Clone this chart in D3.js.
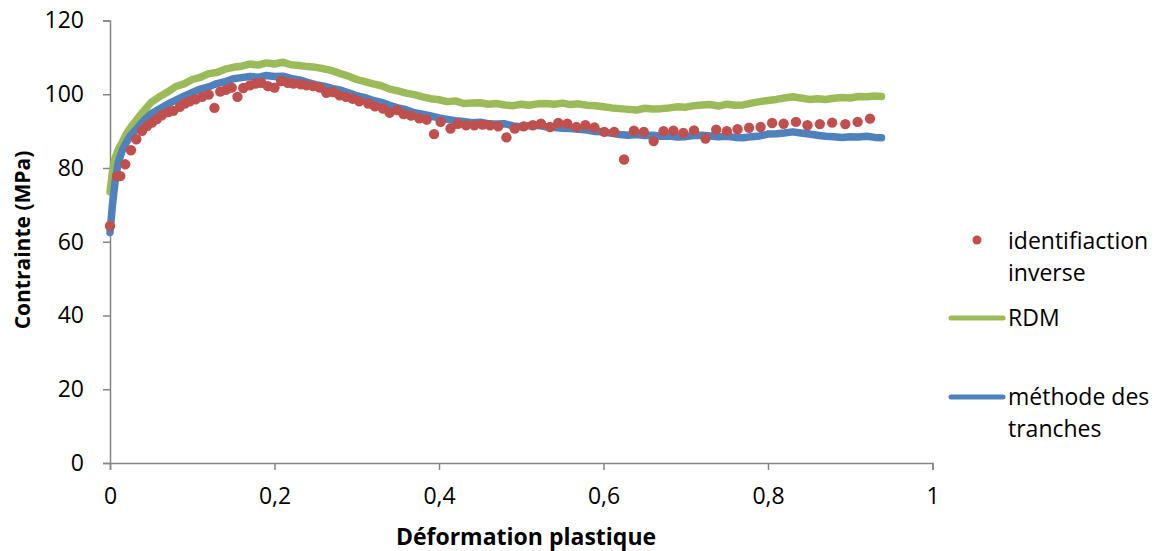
<!DOCTYPE html>
<html><head><meta charset="utf-8">
<script src="https://cdn.jsdelivr.net/npm/d3@7"></script>
<style>body{margin:0;background:#fff}text{font-family:"Open Sans",sans-serif}</style>
</head><body><svg id="c" width="1159" height="551"></svg>
<script>
// ---- data ----
const xTicks = [0, 0.2, 0.4, 0.6, 0.8, 1];
const xTickLabels = ["0", "0,2", "0,4", "0,6", "0,8", "1"];
const yTicks = [0, 20, 40, 60, 80, 100, 120];
const seriesNames = ["identifiaction inverse", "RDM", "méthode des tranches"];

const lineX = [0,0.003,0.006,0.01,0.015,0.02,0.025,0.03,0.04,0.05,0.06,0.07,0.08,0.09,0.10,0.11,0.12,0.13,0.14,0.15,0.16,0.17,0.18,0.19,0.20,0.21,0.22,0.23,0.24,0.25,0.26,0.27,0.28,0.29,0.30,0.31,0.32,0.33,0.34,0.35,0.36,0.37,0.38,0.39,0.40,0.41,0.42,0.43,0.44,0.45,0.46,0.47,0.48,0.49,0.50,0.51,0.52,0.53,0.54,0.55,0.56,0.57,0.58,0.59,0.60,0.61,0.62,0.63,0.64,0.65,0.66,0.67,0.68,0.69,0.70,0.71,0.72,0.73,0.74,0.75,0.76,0.77,0.78,0.79,0.80,0.81,0.82,0.83,0.84,0.85,0.86,0.87,0.88,0.89,0.90,0.91,0.92,0.93,0.938];

const rdm = [73.5,79,82.5,85,87,89.3,91,92.4,95.2,97.8,99.3,100.6,102.1,102.8,104.0,104.6,105.6,105.9,106.8,107.3,107.6,108.2,107.9,108.5,108.2,108.7,108.0,107.8,107.5,107.3,106.9,106.4,105.6,104.9,104.0,103.4,102.8,102.3,101.4,100.9,100.3,99.9,99.3,98.8,98.5,98.0,98.2,97.5,97.6,97.7,97.3,97.5,97.1,96.9,97.3,97.0,97.4,97.5,97.3,97.6,97.2,97.4,97.0,96.9,96.6,96.3,96.1,95.9,95.7,96.2,96.0,96.1,96.3,96.6,96.5,96.9,97.1,97.2,96.8,97.3,97.0,97.1,97.6,98.0,98.3,98.6,99.0,99.3,99.0,98.6,98.8,98.6,98.9,99.1,99.0,99.4,99.3,99.5,99.4];

const tranches = [62.5,70,76,81.5,84.8,87,88.8,90,92.6,94.7,96.0,97.3,98.4,99.5,100.5,101.4,102.0,102.9,103.4,104.2,104.5,104.8,104.6,105.1,104.8,104.9,104.3,103.9,103.2,102.6,102.2,101.6,101.1,100.4,99.6,99.1,98.3,97.8,97.0,96.3,95.8,95.0,94.6,94.1,93.6,93.2,92.8,92.6,92.3,92.4,92.0,91.9,92.0,91.4,91.2,91.5,91.6,91.2,91.0,90.8,90.7,90.5,90.3,89.9,89.8,89.4,89.1,88.9,89.1,88.8,88.9,88.6,88.7,88.4,88.5,88.8,88.9,88.7,88.5,88.6,88.3,88.2,88.5,88.7,89.2,89.3,89.5,89.8,89.5,89.2,88.9,88.6,88.5,88.3,88.5,88.4,88.6,88.3,88.2];

const invX = [0,0.0085,0.0125,0.0185,0.0255,0.032,0.039,0.045,0.051,0.057,0.063,0.071,0.077,0.085,0.091,0.097,0.104,0.112,0.12,0.127,0.134,0.141,0.148,0.155,0.162,0.17,0.177,0.184,0.192,0.2,0.208,0.216,0.223,0.232,0.239,0.247,0.255,0.263,0.271,0.279,0.287,0.295,0.303,0.314,0.322,0.332,0.34,0.349,0.357,0.366,0.376,0.385,0.394,0.402,0.414,0.423,0.433,0.443,0.453,0.462,0.472,0.482,0.492,0.503,0.514,0.524,0.535,0.545,0.556,0.567,0.578,0.589,0.601,0.613,0.625,0.637,0.649,0.661,0.673,0.685,0.697,0.71,0.724,0.737,0.75,0.763,0.777,0.791,0.805,0.819,0.834,0.848,0.863,0.878,0.894,0.909,0.924];
const invY = [64.3,77.8,77.8,81,84.8,87.8,90.1,91.4,92.3,93.3,94.3,95.2,95.5,96.6,97.5,98.1,98.6,99.3,99.9,96.3,100.7,101.2,101.8,99.3,101.7,102.4,102.9,103.1,102.2,101.8,103.6,103.1,102.9,102.7,102.4,102.2,101.8,100.4,100.6,99.7,99.3,98.8,98.1,97.5,96.7,96.1,95.0,95.7,94.6,94.2,93.5,93.1,89.2,92.5,90.7,92.0,91.6,91.6,91.8,91.6,91.3,88.3,90.7,91.3,91.6,92.0,91.1,92.2,92.0,91.1,91.6,91.0,89.8,89.8,82.3,90.1,89.8,87.3,90.0,90.1,89.5,90.2,88.0,90.4,90.0,90.5,90.9,91.1,92.2,92.0,92.5,91.6,91.9,92.3,91.9,92.5,93.4];

// ---- drawing ----
const colRed = "#C0504D", colGreen = "#9BBB59", colBlue = "#4F81BD", axisCol = "#868686";
const svg = d3.select("#c");
const x = d3.scaleLinear().domain([0, 1]).range([110, 932.5]);
const y = d3.scaleLinear().domain([0, 120]).range([463, 20.5]);

const yAxis = svg.append("g").attr("transform", "translate(110,0)")
  .call(d3.axisLeft(y).tickValues(yTicks).tickSize(7).tickPadding(19).tickFormat(d3.format("d")));
const xAxis = svg.append("g").attr("transform", "translate(0,463)")
  .call(d3.axisBottom(x).tickValues(xTicks).tickSize(7).tickPadding(18).tickFormat((d, i) => xTickLabels[i]));
[xAxis, yAxis].forEach(g => {
  g.select(".domain").attr("stroke", axisCol).attr("stroke-width", 1.5);
  g.selectAll(".tick line").attr("stroke", axisCol).attr("stroke-width", 1.5);
  g.selectAll(".tick text").attr("fill", "#000").style("font-size", "23px").style("font-family", '"Open Sans",sans-serif');
});

const line = d3.line().x((d, i) => x(lineX[i])).y(d => y(d));
svg.append("path").attr("d", line(rdm)).attr("fill", "none").attr("stroke", colGreen)
  .attr("stroke-width", 7.5).attr("stroke-linejoin", "round").attr("stroke-linecap", "round");
svg.append("path").attr("d", line(tranches)).attr("fill", "none").attr("stroke", colBlue)
  .attr("stroke-width", 7.5).attr("stroke-linejoin", "round").attr("stroke-linecap", "round");

svg.append("g").selectAll("circle").data(invY).join("circle")
  .attr("cx", (d, i) => x(invX[i])).attr("cy", d => y(d)).attr("r", 5.2).attr("fill", colRed);

// axis titles
svg.append("text").attr("x", 526).attr("y", 545).attr("text-anchor", "middle")
  .style("font-size", "23px").style("font-weight", "bold").text("Déformation plastique");
svg.append("text").attr("transform", "translate(30,240) rotate(-90)").attr("text-anchor", "middle")
  .style("font-size", "21px").style("font-weight", "bold").text("Contrainte (MPa)");

// legend
const lg = svg.append("g");
lg.append("circle").attr("cx", 977).attr("cy", 240).attr("r", 4.5).attr("fill", colRed);
lg.append("text").attr("x", 1008).attr("y", 249).style("font-size", "23px").text("identifiaction");
lg.append("text").attr("x", 1008).attr("y", 281).style("font-size", "23px").text("inverse");
lg.append("line").attr("x1", 951).attr("x2", 1003).attr("y1", 318).attr("y2", 318)
  .attr("stroke", colGreen).attr("stroke-width", 5).attr("stroke-linecap", "round");
lg.append("text").attr("x", 1008).attr("y", 326).style("font-size", "23px").text("RDM");
lg.append("line").attr("x1", 951).attr("x2", 1003).attr("y1", 397).attr("y2", 397)
  .attr("stroke", colBlue).attr("stroke-width", 5).attr("stroke-linecap", "round");
lg.append("text").attr("x", 1008).attr("y", 405).style("font-size", "23px").text("méthode des");
lg.append("text").attr("x", 1008).attr("y", 437).style("font-size", "23px").text("tranches");
</script></body></html>
